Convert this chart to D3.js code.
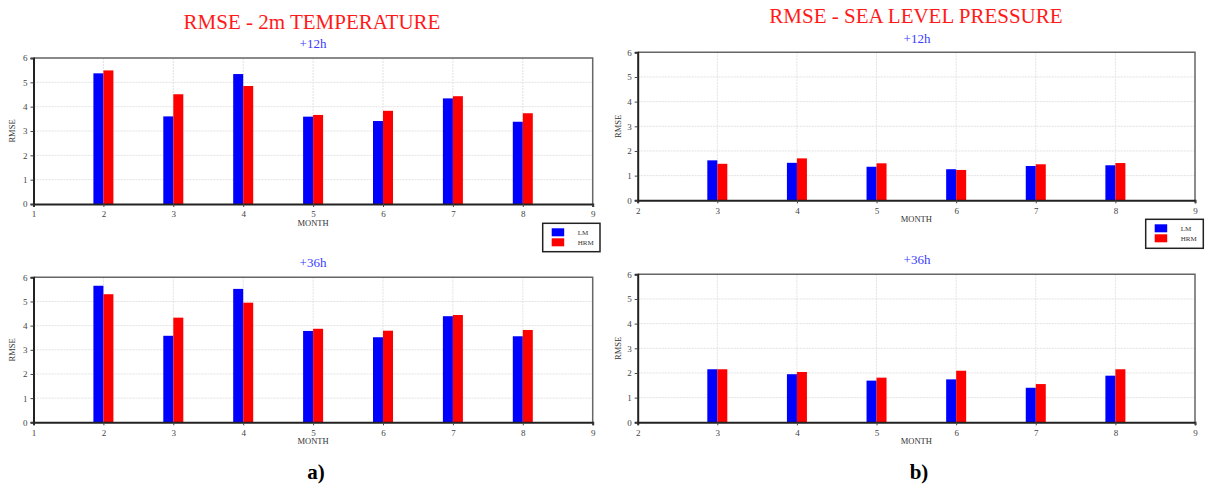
<!DOCTYPE html>
<html><head><meta charset="utf-8">
<script src="https://cdn.jsdelivr.net/npm/d3@7"></script>
<style>body{margin:0;background:#fff;} svg{display:block;}</style>
</head><body>
<svg id="c" width="1208" height="489"></svg>
<script>
// ---- data ----
const tempMonths = [2, 3, 4, 5, 6, 7, 8];
const temp12LM  = [5.37, 3.60, 5.34, 3.59, 3.41, 4.34, 3.38];
const temp12HRM = [5.49, 4.51, 4.85, 3.66, 3.83, 4.43, 3.73];
const temp36LM  = [5.65, 3.58, 5.52, 3.78, 3.52, 4.39, 3.56];
const temp36HRM = [5.30, 4.33, 4.95, 3.87, 3.79, 4.44, 3.82];

const slpMonths = [3, 4, 5, 6, 7, 8];
const slp12LM  = [1.62, 1.52, 1.36, 1.26, 1.39, 1.42];
const slp12HRM = [1.48, 1.70, 1.50, 1.23, 1.46, 1.51];
const slp36LM  = [2.15, 1.95, 1.69, 1.74, 1.40, 1.89];
const slp36HRM = [2.15, 2.04, 1.81, 2.09, 1.55, 2.15];

const yTicks = [0, 1, 2, 3, 4, 5, 6];
const tempXTicks = [1, 2, 3, 4, 5, 6, 7, 8, 9];
const slpXTicks = [2, 3, 4, 5, 6, 7, 8, 9];
const seriesNames = ["LM", "HRM"];
const seriesColors = ["#0000ff", "#ff0000"];

const titles = ["RMSE - 2m TEMPERATURE", "RMSE - SEA LEVEL PRESSURE"];
const leads = ["+12h", "+36h"];

const svg = d3.select("#c");
const serif = "'Liberation Serif', 'Times New Roman', serif";

function panel(o) {
  const x = d3.scaleLinear().domain(o.xDomain).range([o.x0, o.x1]);
  const y = d3.scaleLinear().domain([0, 6]).range([o.yb, o.yt]);
  const g = svg.append("g");
  // grid
  g.selectAll(".gy").data(yTicks.slice(1)).join("line")
    .attr("x1", o.x0).attr("x2", o.x1).attr("y1", d => y(d)).attr("y2", d => y(d))
    .attr("stroke", "#e2e2e2").attr("stroke-width", 1).attr("stroke-dasharray", "2,1");
  g.selectAll(".gx").data(o.xTicks.slice(1, -1)).join("line")
    .attr("x1", d => x(d)).attr("x2", d => x(d)).attr("y1", o.yt).attr("y2", o.yb)
    .attr("stroke", "#e2e2e2").attr("stroke-width", 1).attr("stroke-dasharray", "2,1");
  // frame top/right
  g.append("path").attr("d", `M${o.x0},${o.yt}H${o.x1}V${o.yb}`)
    .attr("fill", "none").attr("stroke", "#666").attr("stroke-width", 1.5);
  // bars
  const w = 10;
  [o.a, o.b].forEach((vals, si) => {
    g.selectAll(".bar" + si).data(o.months.map((m, i) => ({m, v: vals[i]}))).join("rect")
      .attr("x", d => si === 0 ? x(d.m) - w : x(d.m))
      .attr("width", w)
      .attr("y", d => y(d.v)).attr("height", d => y(0) - y(d.v))
      .attr("fill", seriesColors[si]);
  });
  // axes
  const ax = g.append("g").attr("transform", `translate(0,${o.yb})`)
    .call(d3.axisBottom(x).tickValues(o.xTicks).tickSize(3).tickPadding(4).tickFormat(d3.format("d")));
  const ay = g.append("g").attr("transform", `translate(${o.x0},0)`)
    .call(d3.axisLeft(y).tickValues(yTicks).tickSize(3).tickPadding(3).tickFormat(d3.format("d")));
  [ax, ay].forEach(a => {
    a.select(".domain").attr("stroke", "#222").attr("stroke-width", 2);
    a.selectAll(".tick line").attr("stroke", "#444");
    a.selectAll("text").attr("font-family", serif).attr("font-size", 9).attr("fill", "#444");
  });
  // axis labels
  g.append("text").attr("x", (o.x0 + o.x1) / 2).attr("y", o.yb + 22)
    .attr("text-anchor", "middle").attr("font-family", serif).attr("font-size", 8.5).attr("fill", "#333")
    .text("MONTH");
  g.append("text").attr("transform", `translate(${o.ylx},${(o.yt + o.yb) / 2}) rotate(-90)`)
    .attr("text-anchor", "middle").attr("font-family", serif).attr("font-size", 8.5).attr("fill", "#333")
    .text("RMSE");
  // lead label
  g.append("text").attr("x", o.subX).attr("y", o.subY).attr("text-anchor", "middle")
    .attr("font-family", serif).attr("font-size", 13).attr("fill", "#3a3aff").text(o.lead);
}

function legend(lx, ly, lw, lh) {
  const g = svg.append("g");
  g.append("rect").attr("x", lx).attr("y", ly).attr("width", lw).attr("height", lh)
    .attr("fill", "#fff").attr("stroke", "#222").attr("stroke-width", 1.5);
  seriesNames.forEach((n, i) => {
    g.append("rect").attr("x", lx + 9).attr("y", ly + 5 + i * 10).attr("width", 12.5).attr("height", 8)
      .attr("fill", seriesColors[i]);
    g.append("text").attr("x", lx + 35).attr("y", ly + 12 + i * 10)
      .attr("font-family", serif).attr("font-size", 7).attr("fill", "#333").text(n);
  });
}

// titles
svg.append("text").attr("x", 312).attr("y", 29).attr("text-anchor", "middle")
  .attr("font-family", serif).attr("font-size", 21).attr("fill", "#ff1a1a").text(titles[0]);
svg.append("text").attr("x", 916).attr("y", 23).attr("text-anchor", "middle")
  .attr("font-family", serif).attr("font-size", 21).attr("fill", "#ff1a1a").text(titles[1]);

panel({xDomain: [1, 9], xTicks: tempXTicks, x0: 33.5, x1: 592.7, yt: 58, yb: 204,
  months: tempMonths, a: temp12LM, b: temp12HRM, ylx: 15, subX: 313, subY: 48, lead: leads[0]});
panel({xDomain: [1, 9], xTicks: tempXTicks, x0: 33.5, x1: 592.7, yt: 277.3, yb: 422.3,
  months: tempMonths, a: temp36LM, b: temp36HRM, ylx: 15, subX: 313, subY: 267, lead: leads[1]});
panel({xDomain: [2, 9], xTicks: slpXTicks, x0: 637.7, x1: 1195, yt: 52.3, yb: 200.3,
  months: slpMonths, a: slp12LM, b: slp12HRM, ylx: 621, subX: 917, subY: 43, lead: leads[0]});
panel({xDomain: [2, 9], xTicks: slpXTicks, x0: 637.7, x1: 1195, yt: 274.3, yb: 422.3,
  months: slpMonths, a: slp36LM, b: slp36HRM, ylx: 621, subX: 917, subY: 264, lead: leads[1]});

legend(542.7, 223.3, 57.3, 28.4);
legend(1145.7, 219.3, 57.6, 29);

svg.append("text").attr("x", 316).attr("y", 479).attr("text-anchor", "middle")
  .attr("font-family", serif).attr("font-weight", "bold").attr("font-size", 21).attr("fill", "#000").text("a)");
svg.append("text").attr("x", 919).attr("y", 479).attr("text-anchor", "middle")
  .attr("font-family", serif).attr("font-weight", "bold").attr("font-size", 21).attr("fill", "#000").text("b)");
</script>
</body></html>
